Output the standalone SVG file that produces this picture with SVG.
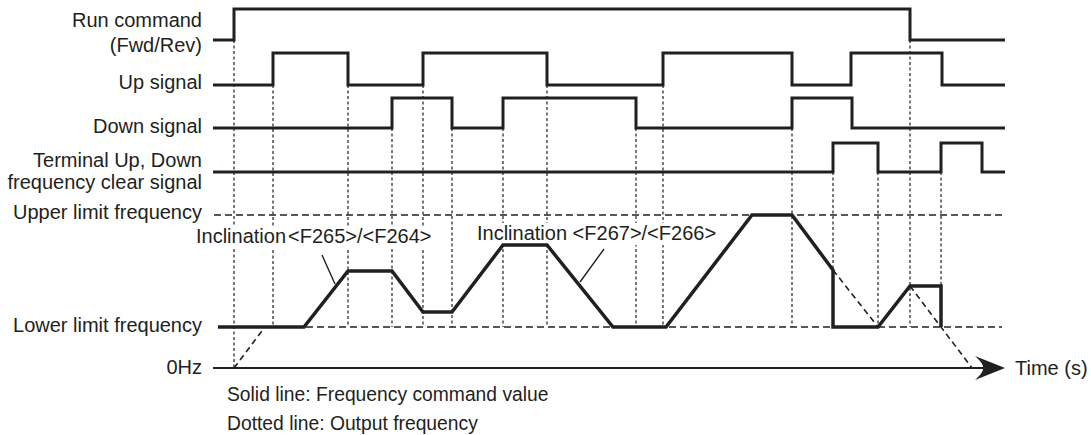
<svg xmlns="http://www.w3.org/2000/svg" width="1091" height="435" viewBox="0 0 1091 435">
<style>
text{font-family:"Liberation Sans",Arial,sans-serif;font-size:20px;fill:#231f20}
.lbl{text-anchor:end}
.leg{font-size:19.3px}
.sig{fill:none;stroke:#231f20;stroke-width:3;stroke-linejoin:miter;stroke-linecap:butt}
.vguide{fill:none;stroke:#231f20;stroke-width:1.2;stroke-dasharray:3 2.5}
.limit{fill:none;stroke:#231f20;stroke-width:1.5;stroke-dasharray:7 4}
.out{fill:none;stroke:#231f20;stroke-width:1.6;stroke-dasharray:6 4}
.cmd{fill:none;stroke:#231f20;stroke-width:3.5;stroke-linejoin:miter}
.axis{fill:none;stroke:#231f20;stroke-width:2}
.leader{fill:none;stroke:#231f20;stroke-width:1.4}
</style>
<rect width="1091" height="435" fill="#ffffff"/>
<g id="labels">
<text class="lbl" x="202" y="27">Run command</text>
<text class="lbl" x="202" y="52">(Fwd/Rev)</text>
<text class="lbl" x="202" y="89">Up signal</text>
<text class="lbl" x="202" y="133">Down signal</text>
<text class="lbl" x="202" y="167">Terminal Up, Down</text>
<text class="lbl" x="202" y="189">frequency clear signal</text>
<text class="lbl" x="202" y="219">Upper limit frequency</text>
<text class="lbl" x="202" y="332">Lower limit frequency</text>
<text class="lbl" x="202" y="374">0Hz</text>
</g>
<g id="guides">
<path class="vguide" d="M234,40V368 M273,85V327 M348,85V327 M392,128V327 M423,85V327 M452,128V327 M503,128V327 M547,85V327 M636,128V327 M663,85V327 M792,128V327 M833,172V327 M878,172V327 M910,40V327 M941,172V327"/>
<path class="limit" d="M214,215H1002 M218,327H1002"/>
</g>
<g id="annotations">
<rect x="194" y="226" width="240" height="22" fill="#ffffff"/>
<rect x="475" y="223" width="245" height="22" fill="#ffffff"/>
<text x="196" y="243">Inclination<tspan dx="2">&lt;F265&gt;/&lt;F264&gt;</tspan></text>
<text x="477" y="240">Inclination &lt;F267&gt;/&lt;F266&gt;</text>
<path class="leader" d="M322,255L335,284 M604,249L580,282"/>
</g>
<g id="run-command"><path class="sig" d="M213,40H234V9H910V40H1005"/></g>
<g id="up-signal"><path class="sig" d="M213,85H273V53H348V85H423V53H547V85H663V53H792V85H851V53H942V85H1005"/></g>
<g id="down-signal"><path class="sig" d="M213,128H392V98H452V128H503V98H636V128H792V98H852V128H1005"/></g>
<g id="clear-signal"><path class="sig" d="M213,172H833V143H878V172H941V143H982V172H1005"/></g>
<g id="output-frequency"><path class="out" d="M234,368L265,327 M833,270L878,327 M910,286L972,368"/></g>
<g id="frequency-command"><path class="cmd" d="M218,327H304L348,271H392L423,312H452L503,245H547L613,327H666L752,215H792L833,270V327H878L910,286H941V327"/></g>
<g id="time-axis">
<path class="axis" d="M213,368H985"/>
<path d="M1005,368L975,356Q984,364 983,368Q984,372 975,380Z" fill="#231f20"/>
<text x="1015" y="375">Time (s)</text>
</g>
<g id="legend">
<text class="leg" x="227" y="401">Solid line: Frequency command value</text>
<text class="leg" x="227" y="430">Dotted line: Output frequency</text>
</g>
</svg>
